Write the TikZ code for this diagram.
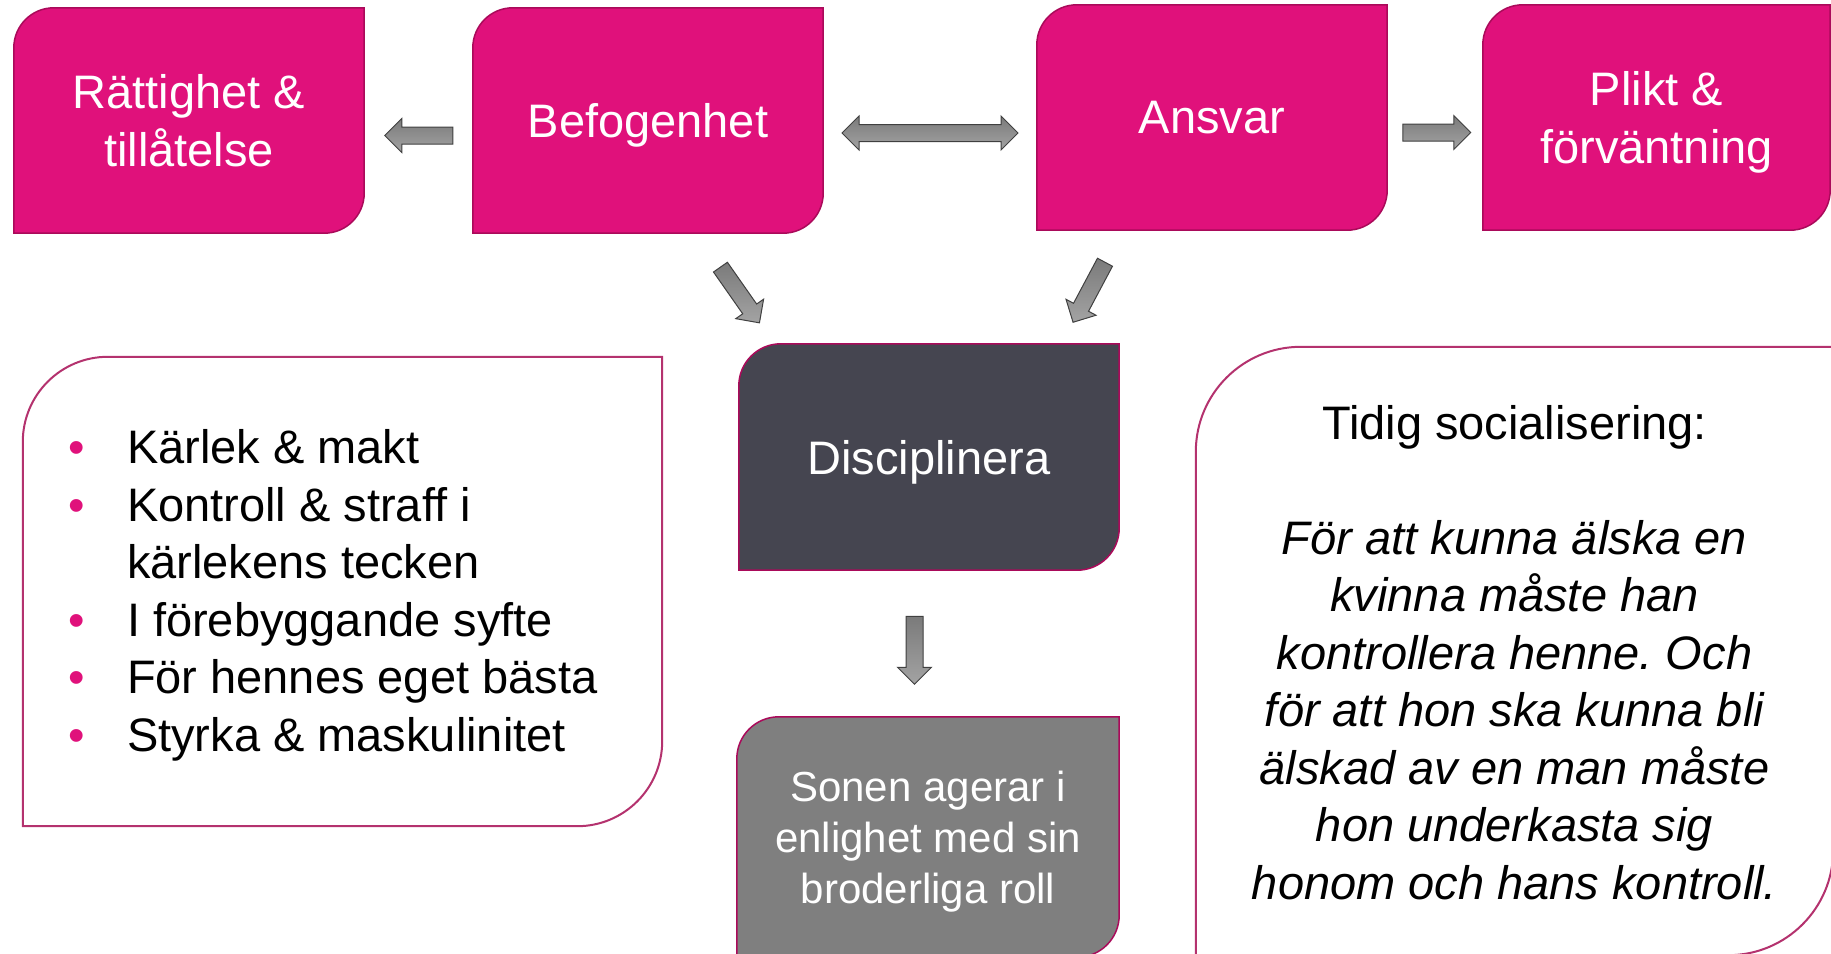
\documentclass[tikz,border=0pt]{standalone}
\usepackage{fontspec}
\setmainfont{Liberation Sans}
\usetikzlibrary{shapes.arrows,backgrounds,calc}

\definecolor{pinkfill}{RGB}{224,17,123}
\definecolor{pinkline}{RGB}{170,10,90}
\definecolor{slate}{RGB}{69,69,80}
\definecolor{midgray}{RGB}{127,127,127}
\definecolor{frameline}{RGB}{180,50,110}

\frenchspacing
\newcommand{\bigtext}{\fontsize{47}{57.5}\selectfont}
\newcommand{\smalltext}{\fontsize{42}{51}\selectfont}
\newcommand{\punkt}{\textcolor{pinkfill}{\textbullet}}
% box with rounded top left and bottom right corner
\newcommand{\leaf}[3]{%
  \path[#2] (#1.north east) -- ([yshift=#3]#1.south east)
    arc[start angle=0, end angle=-90, radius=#3]
    -- (#1.south west) -- ([yshift=-#3]#1.north west)
    arc[start angle=180, end angle=90, radius=#3] -- cycle;}

\begin{document}
\begin{tikzpicture}[%
    x=1pt, y=1pt,
    box/.style={rectangle, inner sep=0, align=center, font=\bigtext},
    pinkbox/.style={box, text=white, text depth=0, minimum width=350, minimum height=225},
    pinkleaf/.style={fill=pinkfill, draw=pinkline, line width=1.5},
    darkleaf/.style={fill=slate, draw=pinkline, line width=1.5},
    grayleaf/.style={fill=midgray, draw=pinkline, line width=1.5},
    whiteleaf/.style={fill=white, draw=frameline, line width=2},
    blockarrow/.style={single arrow, single arrow head extend=8.5,
      minimum height=68, inner xsep=0, inner ysep=8,
      draw=black!75, line width=1, top color=black!52, bottom color=black!36},
    dblarrow/.style={blockarrow, shape=double arrow,
      double arrow head extend=8.5, minimum height=176}
  ]
    \useasboundingbox (0,0) rectangle (1831,-953);

    % top row
    \node[pinkbox] (ratt)  at (189,-120.5)    {Rättighet \&\\tillåtelse};
    \node[pinkbox] (bef)   at (648,-120.5)    {Befogenhet};
    \node[pinkbox] (ansv)  at (1212,-117.5)   {Ansvar};
    \node[pinkbox, minimum width=347] (plikt) at (1656.5,-117.5) {Plikt \&\\förväntning};

    % middle column
    \node[box, text=white, text depth=0, minimum width=380, minimum height=226] (disc) at (929,-457) {Disciplinera};
    \node[box, text=white, text depth=0, font=\smalltext, minimum width=382, minimum height=240] (sonen) at (928,-837)
      {Sonen agerar i\\enlighet med sin\\broderliga roll};

    % side frames
    \node[box, minimum width=639, minimum height=469] (liste) at (342.5,-591.5) {};
    \node[box, minimum width=637, minimum height=608] (social) at (1514.5,-651) {};

    \node[anchor=north west, inner sep=0, font=\bigtext] (punkter)
      at ([xshift=45, yshift=-66.5]liste.north west)
      {\begin{tabular}{@{}p{59pt}@{}l@{}}
        \punkt & Kärlek \& makt\\
        \punkt & Kontroll \& straff i\\
               & kärlekens tecken\\
        \punkt & I förebyggande syfte\\
        \punkt & För hennes eget bästa\\
        \punkt & Styrka \& maskulinitet
      \end{tabular}};
    \node[box, font=\bigtext\itshape, anchor=north] (citat) at ([yshift=-58]social.north)
      {{\upshape Tidig socialisering:}\\[57.5pt]
       För att kunna älska en\\kvinna måste han\\kontrollera henne. Och\\
       för att hon ska kunna bli\\älskad av en man måste\\hon underkasta sig\\
       honom och hans kontroll.};

    % block arrows
    \node[blockarrow, rotate=180] (p1) at ($(ratt.east)!0.5!(bef.west)+(4.5,-15)$) {};
    \node[dblarrow] (p2) at ($(bef.east)!0.5!(ansv.west)+(0,-14)$) {};
    \node[blockarrow] (p3) at ($(ansv.east)!0.5!(plikt.west)+(-2.5,-15)$) {};
    \node[blockarrow, rotate=-55] (p4) at (737.5,-291.5) {};
    \node[blockarrow, rotate=-118] (p5) at (1091,-288.5) {};
    \node[blockarrow, rotate=-90] (p6) at ($(disc.south)!0.5!(sonen.north)+(-14,-2.5)$) {};

    \begin{scope}[on background layer]
      \leaf{ratt}{pinkleaf}{40}
      \leaf{bef}{pinkleaf}{40}
      \leaf{ansv}{pinkleaf}{40}
      \leaf{plikt}{pinkleaf}{40}
      \leaf{disc}{darkleaf}{42}
      \leaf{sonen}{grayleaf}{42}
      \leaf{liste}{whiteleaf}{85}
      \leaf{social}{whiteleaf}{105}
    \end{scope}
  \end{tikzpicture}
\end{document}
